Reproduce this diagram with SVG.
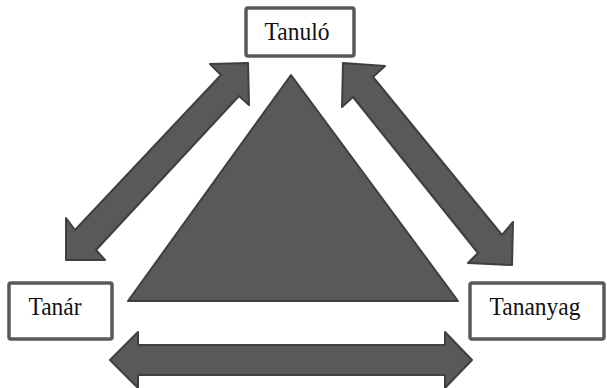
<svg xmlns="http://www.w3.org/2000/svg" width="607" height="388" viewBox="0 0 607 388">
  <style>
    .box { fill: #ffffff; stroke: #595959; stroke-width: 3.5; }
    .lbl { font-family: "Liberation Serif", "Times New Roman", serif; font-size: 23.5px; fill: #111111; text-anchor: middle; }
    .shape { fill: #595959; stroke: #3f3f3f; stroke-width: 2; stroke-linejoin: round; }
  </style>
  <rect width="607" height="388" fill="#ffffff"/>

  <!-- central triangle -->
  <g id="triangle">
    <polygon class="shape" points="291,75 128,301 458,301"/>
  </g>

  <!-- double-headed connectors -->
  <g id="connectors">
    <polygon class="shape" points="248,63 210,64 221,75 75,230 66,218 66,260 105,260 96,250 239,96 249,105"/>
    <polygon class="shape" points="343,63 385,66 373,77 502,235 513,222 512,265 468,263 478,253 353,97 342,107"/>
    <polygon class="shape" points="110,360 138,332 138,345 445,345 445,332 472,360 445,388 445,375 138,375 138,388"/>
  </g>

  <g id="tanulo">
    <rect class="box" x="246" y="8" width="108" height="48" rx="2"/>
    <text class="lbl" transform="translate(297,40) scale(1,1.1)">Tanuló</text>
  </g>

  <g id="tanar">
    <rect class="box" x="9" y="283" width="103" height="56" rx="2"/>
    <text class="lbl" transform="translate(55,315) scale(1,1.1)">Tanár</text>
  </g>

  <g id="tananyag">
    <rect class="box" x="470" y="283" width="134" height="56" rx="2"/>
    <text class="lbl" transform="translate(535,315) scale(1,1.1)">Tananyag</text>
  </g>
</svg>
